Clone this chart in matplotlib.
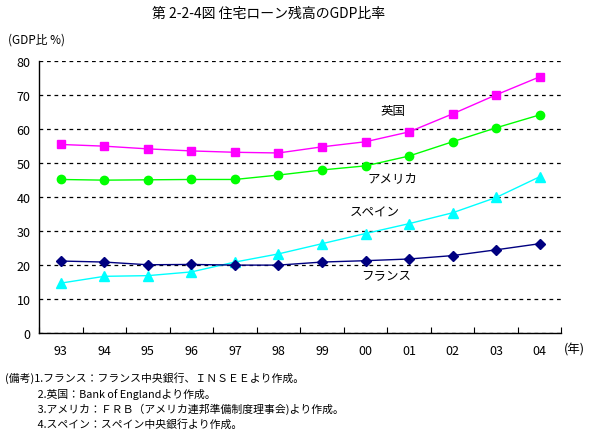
import matplotlib
matplotlib.use("Agg")
from matplotlib import pyplot as plt

plt.rcParams['font.family'] = ['Noto Sans CJK JP', 'DejaVu Sans']

years = ['93', '94', '95', '96', '97', '98', '99', '00', '01', '02', '03', '04']
uk = [55.5, 55.0, 54.2, 53.6, 53.2, 53.0, 54.8, 56.3, 59.2, 64.5, 70.1, 75.4]
usa = [45.2, 45.0, 45.1, 45.2, 45.2, 46.5, 48.0, 49.2, 52.1, 56.3, 60.4, 64.2]
spain = [14.7, 16.7, 16.9, 18.0, 20.9, 23.3, 26.3, 29.3, 32.2, 35.4, 39.9, 46.0]
france = [21.2, 20.9, 20.1, 20.2, 20.0, 20.0, 20.9, 21.3, 21.8, 22.8, 24.5, 26.3]

notes = [
    "(備考)1.フランス：フランス中央銀行、ＩＮＳＥＥより作成。",
    "　　　2.英国：Bank of Englandより作成。",
    "　　　3.アメリカ：ＦＲＢ（アメリカ連邦準備制度理事会)より作成。",
    "　　　4.スペイン：スペイン中央銀行より作成。",
]

fig = plt.figure(figsize=(5.91, 4.35), dpi=100)
ax = fig.add_axes([0.066, 0.232, 0.884, 0.625])

x = list(range(len(years)))
ax.plot(x, uk, color='#FF00FF', lw=1, marker='s', ms=6, zorder=3)
ax.plot(x, usa, color='#00FF00', lw=1, marker='o', ms=6, zorder=3)
ax.plot(x, spain, color='#00FFFF', lw=1, marker='^', ms=7, zorder=3)
ax.plot(x, france, color='#000080', lw=1, marker='D', ms=5, zorder=3)

ax.set_xlim(-0.5, len(years) - 0.5)
ax.set_ylim(0, 80)
ax.set_yticks(range(0, 81, 10))
ax.yaxis.grid(True, color='black', linestyle=(0, (3, 3)), lw=0.9)
ax.set_axisbelow(True)
ax.tick_params(axis='y', length=0, labelsize=9, pad=6)

ax.set_xticks([i + 0.5 for i in range(-1, len(years))])
ax.set_xticklabels([])
ax.set_xticks(x, minor=True)
ax.set_xticklabels(years, minor=True, fontsize=9)
ax.tick_params(axis='x', which='major', direction='in', length=4, color='black')
ax.tick_params(axis='x', which='minor', length=0, pad=8)

for s in ['top', 'right']:
    ax.spines[s].set_visible(False)
for s in ['left', 'bottom']:
    ax.spines[s].set_color('black')
    ax.spines[s].set_linewidth(1)

# series labels
ax.text(7.63, 65.5, '英国', fontsize=9, ha='center', va='center')
ax.text(7.63, 45.7, 'アメリカ', fontsize=9, ha='center', va='center')
ax.text(7.22, 35.5, 'スペイン', fontsize=9, ha='center', va='center')
ax.text(7.47, 16.8, 'フランス', fontsize=9, ha='center', va='center')

fig.text(0.454, 0.967, '第 2-2-4図 住宅ローン残高のGDP比率', fontsize=10, ha='center', va='center')
fig.text(0.014, 0.908, '(GDP比 %)', fontsize=8.5, ha='left', va='center')
fig.text(0.99, 0.195, '(年)', fontsize=9, ha='right', va='center')

ys = [0.131, 0.094, 0.060, 0.025]
for t, yy in zip(notes, ys):
    fig.text(0.008, yy, t, fontsize=7.8, ha='left', va='center')

fig.savefig('out.png', dpi=100)
